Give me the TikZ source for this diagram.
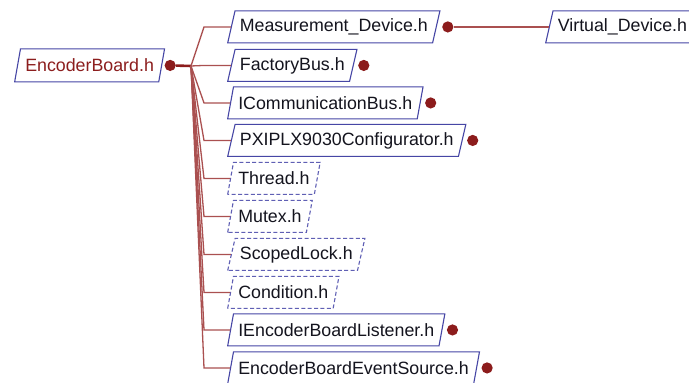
\documentclass[tikz,border=0pt]{standalone}
\usepackage{fontspec}
\setmainfont{Liberation Sans}
\usetikzlibrary{shapes.geometric}
\definecolor{bordercol}{RGB}{70,70,165}
\definecolor{dashcol}{RGB}{95,95,180}
\definecolor{linecol}{RGB}{170,80,80}
\definecolor{dotcol}{RGB}{140,28,28}
\definecolor{roottext}{RGB}{140,30,30}
\definecolor{nodetext}{RGB}{20,20,30}
\tikzset{
  file/.style={trapezium, trapezium left angle=66, trapezium right angle=114,
    trapezium stretches=true,
    draw=bordercol, line width=0.55pt, fill=white, text=nodetext,
    minimum height=16pt, inner xsep=2.4pt, inner ysep=0pt,
    font=\fontsize{8.9}{10}\selectfont, anchor=bottom left corner},
  dfile/.style={file, draw=dashcol, dash pattern=on 2pt off 1.2pt},
  rootfile/.style={file, text=roottext, minimum height=16.5pt},
  dot/.style={circle, fill=dotcol, inner sep=0pt, minimum size=5.6pt},
  conn/.style={draw=linecol, line width=0.65pt},
  rootconn/.style={draw=dotcol, line width=1.3pt},
}
\begin{document}
\begin{tikzpicture}[x=0.5pt, y=-0.5pt]
\useasboundingbox (0,0) rectangle (689,383);
\fill[white] (0,0) rectangle (689,383);
% root
\node[rootfile] (root) at (14,82.5) {EncoderBoard.h};
\node[dot] (rootdot) at ([xshift=4pt]root.right side) {};
\coordinate (jn) at (191,66);
\coordinate (ex) at (204,0);
% children
\node[file]  (md)  at (227,43.5)  {Measurement\_Device.h};
\node[file]  (fb)  at (227,82)    {FactoryBus.h};
\node[file]  (icb) at (227,119.5) {ICommunicationBus.h};
\node[file]  (pxi) at (227,157)   {PXIPLX9030Configurator.h};
\node[dfile] (thr) at (227,195)   {Thread.h};
\node[dfile] (mtx) at (227,233)   {Mutex.h};
\node[dfile] (scl) at (227,271)   {ScopedLock.h};
\node[dfile] (cnd) at (227,309)   {Condition.h};
\node[file]  (ebl) at (227,346.5) {IEncoderBoardListener.h};
\node[file]  (ebs) at (227,384.5) {EncoderBoardEventSource.h};
\node[file]  (vd)  at (545,43.5)  {Virtual\_Device.h};
% dots
\node[dot] (mdd)  at ([xshift=5.5pt]md.right side) {};
\node[dot] (fbd)  at ([xshift=5pt]fb.right side) {};
\node[dot] (icbd) at ([xshift=5pt]icb.right side) {};
\node[dot] (pxid) at ([xshift=5pt]pxi.right side) {};
\node[dot] (ebld) at ([xshift=5pt]ebl.right side) {};
\node[dot] (ebsd) at ([xshift=5pt]ebs.right side) {};
% connectors
\draw[rootconn] (rootdot) -- (jn);
\foreach \c in {md,fb,icb,pxi,thr,mtx,scl,cnd,ebl,ebs}
  \draw[conn] (jn) -- (ex |- \c.left side) -- (\c.left side);
\draw[conn] (mdd) -- (vd.left side);
\end{tikzpicture}
\end{document}
